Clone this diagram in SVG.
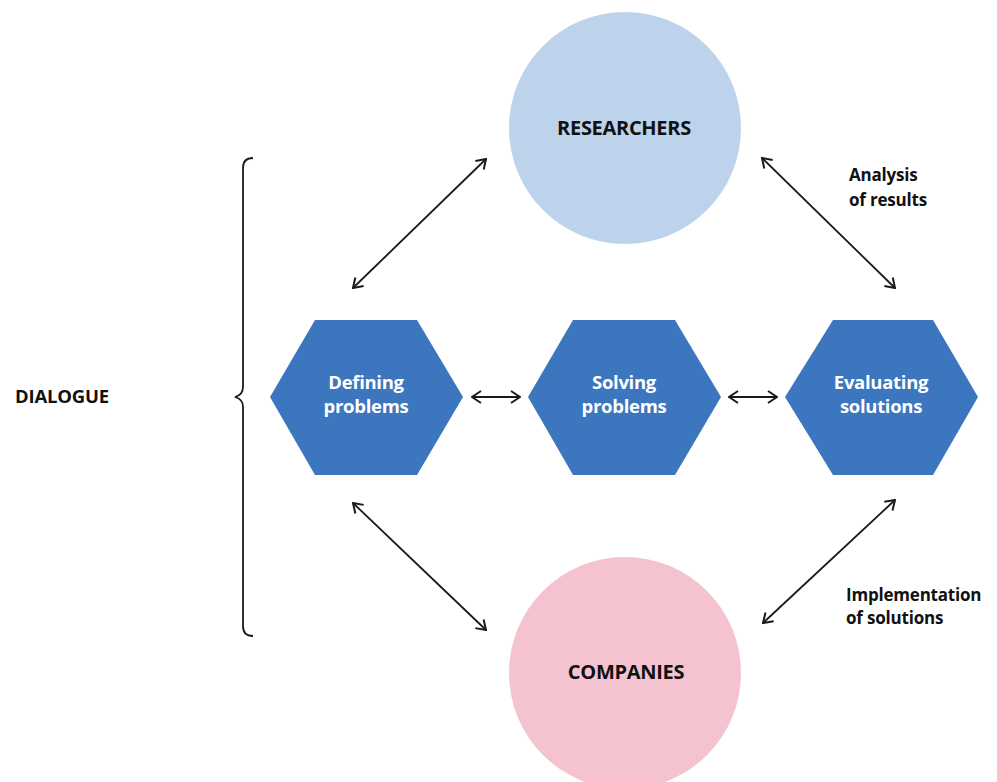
<svg xmlns="http://www.w3.org/2000/svg" width="997" height="782" viewBox="0 0 997 782">
<defs>
<marker id="ah" viewBox="0 0 12 14" refX="11" refY="7" markerWidth="12" markerHeight="14" markerUnits="userSpaceOnUse" orient="auto-start-reverse">
<path d="M2,1 L11,7 L2,13" fill="none" stroke="#1a1a1a" stroke-width="2"/>
</marker>
<style>
.hex{fill:#3B76BE}
.ht{font-family:"Open Sans","Liberation Sans",sans-serif;font-weight:bold;font-size:18.5px;fill:#ffffff;text-anchor:middle;letter-spacing:-0.3px}
.ct{font-family:"Open Sans","Liberation Sans",sans-serif;font-weight:bold;font-size:20px;fill:#111111;text-anchor:middle;letter-spacing:-0.3px}
.lt{font-family:"Open Sans","Liberation Sans",sans-serif;font-weight:bold;font-size:17px;fill:#111111;letter-spacing:-0.2px}
.con{stroke:#1a1a1a;stroke-width:1.8;fill:none;marker-start:url(#ah);marker-end:url(#ah)}
</style>
</defs>
<rect width="997" height="782" fill="#ffffff"/>
<g id="researchers">
<circle cx="625" cy="128" r="116" fill="#BDD3EB"/>
<text class="ct" x="624" y="135">RESEARCHERS</text>
</g>
<g id="companies">
<circle cx="625" cy="673" r="116" fill="#F5C3CF"/>
<text class="ct" x="626" y="679">COMPANIES</text>
</g>
<g id="defining">
<polygon class="hex" points="270,397 315,320 417,320 463,397 417,475 315,475"/>
<text class="ht" x="366" y="389">Defining</text>
<text class="ht" x="366" y="413">problems</text>
</g>
<g id="solving">
<polygon class="hex" points="528,397 573,320 675,320 721,397 675,475 573,475"/>
<text class="ht" x="624" y="389">Solving</text>
<text class="ht" x="624" y="413">problems</text>
</g>
<g id="evaluating">
<polygon class="hex" points="785,397 833,320 933,320 978,397 933,475 833,475"/>
<text class="ht" x="881" y="389">Evaluating</text>
<text class="ht" x="881" y="413">solutions</text>
</g>
<g id="connectors">
<line class="con" x1="353" y1="288" x2="486" y2="159"/>
<line class="con" x1="762" y1="158" x2="895" y2="288"/>
<line class="con" x1="353" y1="503" x2="486" y2="630"/>
<line class="con" x1="763" y1="623" x2="895" y2="500"/>
<line class="con" x1="472" y1="397" x2="520" y2="397"/>
<line class="con" x1="729" y1="397" x2="777" y2="397"/>
</g>
<g id="dialogue">
<path d="M253,158 Q243,158 243,168 L243,387 Q243,395 235,397 Q243,399 243,407 L243,626 Q243,636 253,636" fill="none" stroke="#1a1a1a" stroke-width="1.8"/>
<text class="lt" x="15" y="403" style="font-size:18.5px">DIALOGUE</text>
</g>
<g id="labels">
<text class="lt" x="849" y="181">Analysis</text>
<text class="lt" x="849" y="206">of results</text>
<text class="lt" x="846" y="601">Implementation</text>
<text class="lt" x="846" y="624">of solutions</text>
</g>
</svg>
